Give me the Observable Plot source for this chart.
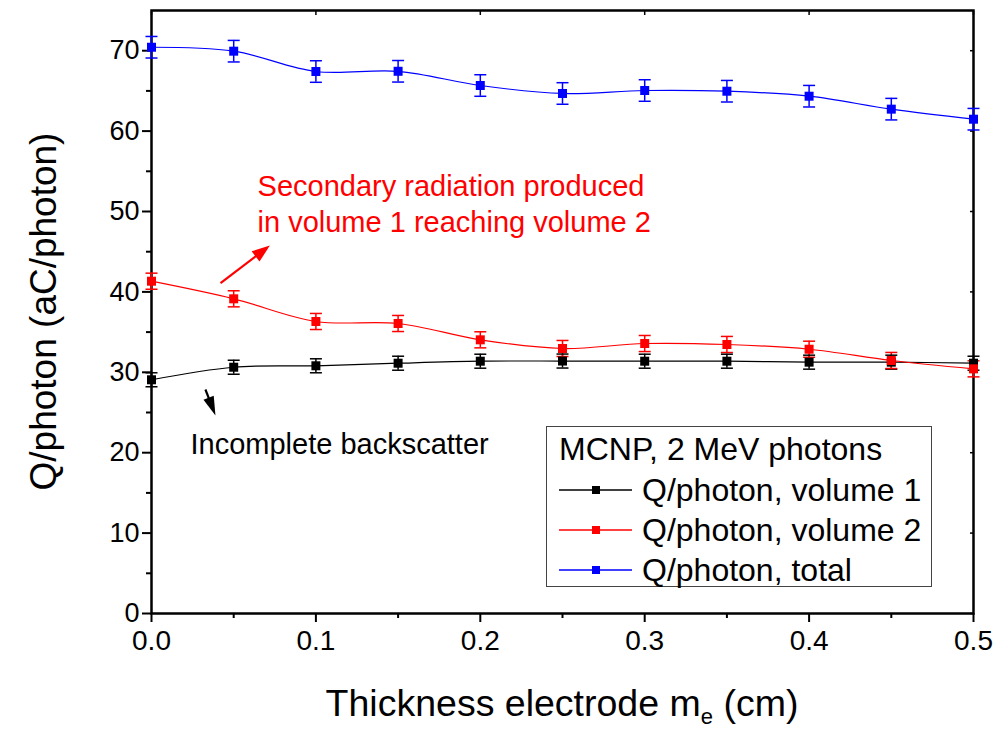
<!DOCTYPE html>
<html>
<head>
<meta charset="utf-8">
<script src="https://cdn.jsdelivr.net/npm/d3@7"></script>
<script src="https://cdn.jsdelivr.net/npm/@observablehq/plot@0.6"></script>
<style>
  html, body { margin: 0; padding: 0; background: #fff; }
  #chart { position: relative; width: 1001px; height: 730px; font-family: Arial, "Liberation Sans", sans-serif; }
  #legend { position: absolute; left: 546px; top: 426px; width: 386px; height: 161px; border: 1px solid #444; box-sizing: border-box; background: #fff; }
  #legend .title { position: absolute; left: 12px; top: 4px; font-size: 32px; white-space: nowrap; color: #000; }
  #legend .row { position: absolute; left: 12px; height: 40px; white-space: nowrap; }
  #legend .row svg { position: absolute; left: 0; top: 0; }
  #legend .row span { position: absolute; left: 83px; top: 0; font-size: 32px; line-height: 40px; color: #000; }
</style>
</head>
<body>
<div id="chart"></div>
<script>
// Electrode thickness (cm)
const thickness = [0, 0.05, 0.1, 0.15, 0.2, 0.25, 0.3, 0.35, 0.4, 0.45, 0.5];
// Collected charge per photon (aC/photon), MCNP, 2 MeV photons
const volume1 = [29.07, 30.63, 30.81, 31.13, 31.38, 31.4, 31.38, 31.38, 31.26, 31.26, 31.13];
const volume2 = [41.33, 39.14, 36.32, 36.07, 34.04, 32.96, 33.58, 33.46, 32.87, 31.47, 30.43];
const total   = [70.43, 69.94, 67.41, 67.44, 65.67, 64.68, 65.05, 64.96, 64.34, 62.73, 61.48];
// Statistical uncertainties (±, aC/photon)
const volume1Err = [0.87, 0.87, 0.87, 0.87, 0.87, 0.87, 0.87, 0.87, 0.87, 0.87, 0.87];
const volume2Err = [1.0, 1.0, 1.0, 1.0, 1.0, 1.0, 1.0, 1.0, 1.0, 1.0, 1.0];
const totalErr   = [1.34, 1.34, 1.34, 1.34, 1.34, 1.34, 1.34, 1.34, 1.34, 1.34, 1.34];

const seriesNames  = ["Q/photon, volume 1", "Q/photon, volume 2", "Q/photon, total"];
const seriesColors = ["#000000", "#ff0000", "#0000ff"];
const yTicks = [0, 10, 20, 30, 40, 50, 60, 70];
const xTicks = [0, 0.1, 0.2, 0.3, 0.4, 0.5];

// Annotation texts and arrows (data coordinates; y is the baseline of the last line)
const notes = [
  {x: 0.0645, y: 47.4, text: "Secondary radiation produced\nin volume 1 reaching volume 2", color: "#ff0000"},
  {x: 0.0237, y: 19.9, text: "Incomplete backscatter", color: "#000000"}
];
const arrows = [
  {x1: 0.042, y1: 41.08, x2: 0.072, y2: 45.77, color: "#ff0000", len: 18, wid: 13},
  {x1: 0.0328, y1: 27.86, x2: 0.0389, y2: 24.63, color: "#000000", len: 19, wid: 11}
];

const W = 1001, H = 730;
const margin = {top: 10, right: 28, bottom: 117, left: 151};
const xDomain = [0, 0.5], yDomain = [0, 75];

const rows = [];
[volume1, volume2, total].forEach((vals, s) => {
  const errs = [volume1Err, volume2Err, totalErr][s];
  thickness.forEach((t, i) => rows.push({series: seriesNames[s], color: seriesColors[s], x: t, y: vals[i], lo: vals[i] - errs[i], hi: vals[i] + errs[i]}));
});

// Custom symbols: filled square marker, horizontal cap, arrow head
const squareSym = {draw(ctx, size) { const r = Math.sqrt(size / Math.PI); ctx.rect(-r, -r, 2 * r, 2 * r); }};
const capSym = {draw(ctx, size) { const r = Math.sqrt(size / Math.PI); ctx.moveTo(-r, 0); ctx.lineTo(r, 0); }};
function headSym(len, wid) {
  return {draw(ctx) { ctx.moveTo(0, 0); ctx.lineTo(-wid / 2, len); ctx.lineTo(wid / 2, len); ctx.closePath(); }};
}

// Pixel mapping used to orient the arrow heads
const px = d3.scaleLinear(xDomain, [margin.left, W - margin.right]);
const py = d3.scaleLinear(yDomain, [H - margin.bottom, margin.top]);
const arrowMarks = arrows.flatMap(a => {
  const dx = px(a.x2) - px(a.x1), dy = py(a.y2) - py(a.y1);
  const L = Math.hypot(dx, dy);
  const angle = Math.atan2(dx, -dy) * 180 / Math.PI;
  const f = (L - a.len + 2) / L;
  return [
    Plot.link([a], {x1: "x1", y1: "y1", x2: d => d.x1 + (d.x2 - d.x1) * f, y2: d => d.y1 + (d.y2 - d.y1) * f, stroke: a.color, strokeWidth: 2.2}),
    Plot.dot([a], {x: "x2", y: "y2", symbol: headSym(a.len, a.wid), r: 5, fill: a.color, stroke: "none", rotate: angle})
  ];
});

const plot = Plot.plot({
  width: W, height: H,
  marginTop: margin.top, marginRight: margin.right, marginBottom: margin.bottom, marginLeft: margin.left,
  style: {fontFamily: "Arial, 'Liberation Sans', sans-serif", background: "#fff", color: "#000"},
  x: {domain: xDomain},
  y: {domain: yDomain},
  marks: [
    // minor ticks
    Plot.axisY(d3.range(5, 75, 10), {anchor: "left", tickSize: 5, tickFormat: () => "", strokeWidth: 2, label: null}),
    Plot.axisX(d3.range(0.05, 0.5, 0.1), {anchor: "bottom", tickSize: 5, tickFormat: () => "", strokeWidth: 2, label: null}),
    // major ticks and labels
    Plot.axisY(yTicks, {anchor: "left", tickSize: 9, tickPadding: 3, fontSize: 27, strokeWidth: 2, label: null, tickFormat: d3.format("d")}),
    Plot.axisX(xTicks, {anchor: "bottom", tickSize: 9, tickPadding: 8, fontSize: 28, strokeWidth: 2, label: null, tickFormat: d3.format(".1f")}),
    // mirrored inner ticks on the top and right edges
    Plot.axisX(xTicks, {anchor: "top", tickSize: -4, tickFormat: () => "", strokeWidth: 1.5, label: null}),
    Plot.axisY(yTicks, {anchor: "right", tickSize: -4, tickFormat: () => "", strokeWidth: 1.5, label: null}),
    Plot.frame({stroke: "#000", strokeWidth: 2.5}),
    // series curves
    Plot.line(rows, {x: "x", y: "y", z: "series", stroke: "color", strokeWidth: 1.2, curve: "catmull-rom"}),
    // error bars
    Plot.ruleX(rows, {x: "x", y1: "lo", y2: "hi", stroke: "color", strokeWidth: 1.5}),
    Plot.dot(rows, {x: "x", y: "lo", symbol: capSym, r: 6, stroke: "color", strokeWidth: 1.5, fill: "none"}),
    Plot.dot(rows, {x: "x", y: "hi", symbol: capSym, r: 6, stroke: "color", strokeWidth: 1.5, fill: "none"}),
    // markers
    Plot.dot(rows, {x: "x", y: "y", symbol: squareSym, r: 4.5, fill: "color", stroke: "none"}),
    // annotations
    ...arrowMarks,
    Plot.text(notes, {x: "x", y: "y", text: "text", fill: "color", textAnchor: "start", lineAnchor: "bottom", fontSize: 29, lineHeight: 1.24})
  ]
});

// Axis titles
const svg = d3.select(plot);
svg.append("text")
  .attr("transform", `translate(56, ${(margin.top + H - margin.bottom) / 2}) rotate(-90)`)
  .attr("text-anchor", "middle")
  .attr("font-size", 37)
  .attr("fill", "#000")
  .text("Q/photon (aC/photon)");
const xt = svg.append("text")
  .attr("x", (margin.left + W - margin.right) / 2)
  .attr("y", 716)
  .attr("text-anchor", "middle")
  .attr("font-size", 37.5)
  .attr("fill", "#000");
xt.append("tspan").text("Thickness electrode m");
xt.append("tspan").attr("font-size", 22).attr("dy", 8).text("e");
xt.append("tspan").attr("dy", -8).text(" (cm)");

const chart = document.getElementById("chart");
chart.appendChild(plot);

// Legend box
const legend = document.createElement("div");
legend.id = "legend";
legend.innerHTML = `<div class="title">MCNP, 2 MeV photons</div>`;
seriesNames.forEach((name, i) => {
  const row = document.createElement("div");
  row.className = "row";
  row.style.top = (43 + i * 40) + "px";
  row.innerHTML = `<svg width="76" height="40"><line x1="0" x2="73" y1="20" y2="20" stroke="${seriesColors[i]}" stroke-width="1.3"/><rect x="33" y="16" width="8" height="8" fill="${seriesColors[i]}"/></svg><span>${name}</span>`;
  legend.appendChild(row);
});
chart.appendChild(legend);
</script>
</body>
</html>
